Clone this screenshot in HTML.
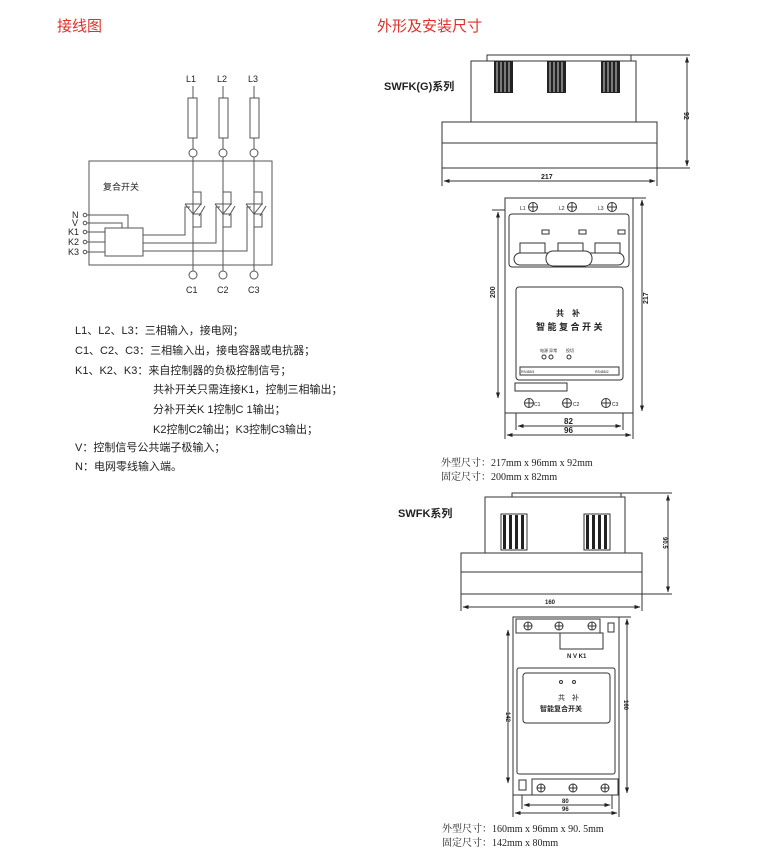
<!DOCTYPE html>
<html><head><meta charset="utf-8"><style>
body{margin:0;background:#fff}
svg{display:block}
text{font-family:"Liberation Sans","Noto Sans CJK SC",sans-serif;fill:#222}
.s{font-family:"Liberation Serif","Noto Serif CJK SC",serif}
</style></head><body>
<svg width="780" height="867" viewBox="0 0 780 867" xmlns="http://www.w3.org/2000/svg">
<defs>
<marker id="a" markerWidth="6" markerHeight="4" refX="5.5" refY="2" orient="auto-start-reverse" markerUnits="userSpaceOnUse"><path d="M0,0L6,2L0,4z" fill="#222"/></marker>
</defs>
<text x="57" y="31" font-size="15" style="fill:#e0302a">接线图</text>
<text x="377" y="31" font-size="15" style="fill:#e0302a">外形及安装尺寸</text>

<!-- wiring -->
<g stroke="#555" fill="none" stroke-width="1">
<rect x="89" y="161" width="183" height="104"/>
<rect x="105" y="228" width="38" height="28"/>
<line x1="193" y1="86" x2="193" y2="271"/>
<line x1="223" y1="86" x2="223" y2="271"/>
<line x1="254" y1="86" x2="254" y2="271"/>
<rect x="188" y="98" width="9" height="40" fill="#fff"/>
<rect x="219" y="98" width="9" height="40" fill="#fff"/>
<rect x="250" y="98" width="9" height="40" fill="#fff"/>
<g fill="#fff">
<circle cx="193" cy="153" r="4"/><circle cx="223" cy="153" r="4"/><circle cx="254" cy="153" r="4"/>
<circle cx="193" cy="275" r="4"/><circle cx="223" cy="275" r="4"/><circle cx="254" cy="275" r="4"/>
<circle cx="85" cy="215" r="1.8"/><circle cx="85" cy="223" r="1.8"/><circle cx="85" cy="232" r="1.8"/><circle cx="85" cy="242" r="1.8"/><circle cx="85" cy="252" r="1.8"/>
</g>
<polyline points="87,215 128,215 128,228"/>
<polyline points="87,223 122,223 122,228"/>
<line x1="87" y1="232" x2="105" y2="232"/>
<line x1="87" y1="242" x2="105" y2="242"/>
<line x1="87" y1="252" x2="105" y2="252"/>
<polyline points="143,235 185,235 185,207 190,207"/>
<polyline points="143,243 216,243 216,207 220,207"/>
<polyline points="143,251 247,251 247,207 251,207"/>
<g id="sw"><polyline points="193,192 201,192 201,205"/><polyline points="185,204 201,204 193,214 185,204"/><polyline points="199,216 205,206"/><polyline points="193,214 201,214 201,227 193,227"/></g>
<use href="#sw" x="30"/><use href="#sw" x="61"/>
</g>
<g font-size="9">
<text x="186" y="82">L1</text><text x="217" y="82">L2</text><text x="248" y="82">L3</text>
<text x="186" y="293">C1</text><text x="217" y="293">C2</text><text x="248" y="293">C3</text>
<text x="72" y="218">N</text><text x="72" y="226">V</text><text x="68" y="235">K1</text><text x="68" y="245">K2</text><text x="68" y="255">K3</text>
</g>
<text x="103" y="190" font-size="9">复合开关</text>
<g font-size="11">
<text x="75" y="334">L1、L2、L3：三相输入，接电网；</text>
<text x="75" y="354">C1、C2、C3：三相输入出，接电容器或电抗器；</text>
<text x="75" y="374">K1、K2、K3：来自控制器的负极控制信号；</text>
<text x="153" y="393">共补开关只需连接K1，控制三相输出；</text>
<text x="153" y="413">分补开关K 1控制C 1输出；</text>
<text x="153" y="433">K2控制C2输出；K3控制C3输出；</text>
<text x="75" y="451">V：控制信号公共端子极输入；</text>
<text x="75" y="470">N：电网零线输入端。</text>
</g>

<!-- SWFK(G) side -->
<text x="384" y="90" font-size="11" font-weight="bold">SWFK(G)系列</text>
<g stroke="#333" fill="none">
<rect x="487" y="55" width="144" height="6"/>
<polyline points="471,122 471,61 636,61 636,122"/>
<rect x="442" y="122" width="215" height="46"/>
<line x1="442" y1="143" x2="657" y2="143"/>
<line x1="631" y1="55" x2="690" y2="55"/><line x1="657" y1="168" x2="690" y2="168"/>
<line x1="687" y1="57" x2="687" y2="166" marker-start="url(#a)" marker-end="url(#a)"/>
<line x1="442" y1="168" x2="442" y2="186"/><line x1="657" y1="168" x2="657" y2="186"/>
<line x1="444" y1="181" x2="655" y2="181" marker-start="url(#a)" marker-end="url(#a)"/>
</g>
<g fill="#222"><rect x="494" y="61" width="19" height="32"/><rect x="547" y="61" width="19" height="32"/><rect x="601" y="61" width="19" height="32"/></g>
<g stroke="#fff" stroke-width="0.8">
<path d="M497,62v30M501,62v30M505,62v30M509,62v30M550,62v30M554,62v30M558,62v30M562,62v30M604,62v30M608,62v30M612,62v30M616,62v30"/></g>
<text x="541" y="179" font-size="7" font-weight="bold">217</text>
<text x="684" y="112" font-size="7" font-weight="bold" transform="rotate(90 684 112)">92</text>

<!-- SWFK(G) front -->
<g stroke="#333" fill="none">
<rect x="505" y="198" width="128" height="215"/>
<rect x="509" y="214" width="120" height="53" rx="3"/>
<rect x="542" y="230" width="7" height="4"/><rect x="579" y="230" width="7" height="4"/><rect x="618" y="230" width="7" height="4"/>
<rect x="520" y="243" width="25" height="10"/><rect x="558" y="243" width="25" height="10"/><rect x="595" y="243" width="25" height="10"/>
<rect x="514" y="253" width="110" height="12" rx="6"/>
<rect x="546" y="251" width="46" height="15" rx="7" fill="#fff"/>
<rect x="516" y="287" width="107" height="93" rx="3"/>
<rect x="520" y="367" width="99" height="8"/>
<rect x="515" y="383" width="52" height="8"/>
<circle cx="544" cy="357" r="2"/><circle cx="551" cy="357" r="2"/><circle cx="569" cy="357" r="2"/>
<g id="sc"><circle cx="533" cy="207" r="4.5"/><path d="M528.5,207h9M533,202.5v9"/></g>
<use href="#sc" x="39"/><use href="#sc" x="79"/>
<use href="#sc" x="-4" y="196"/><use href="#sc" x="34" y="196"/><use href="#sc" x="73" y="196"/>
<line x1="492" y1="210" x2="505" y2="210"/>
<line x1="498" y1="212" x2="498" y2="398" marker-start="url(#a)" marker-end="url(#a)"/>
<line x1="633" y1="198" x2="646" y2="198"/>
<line x1="642" y1="200" x2="642" y2="411" marker-start="url(#a)" marker-end="url(#a)"/>
<line x1="516" y1="413" x2="516" y2="430"/><line x1="623" y1="413" x2="623" y2="430"/>
<line x1="518" y1="426" x2="621" y2="426" marker-start="url(#a)" marker-end="url(#a)"/>
<line x1="505" y1="413" x2="505" y2="439"/><line x1="633" y1="413" x2="633" y2="439"/>
<line x1="507" y1="435" x2="631" y2="435" marker-start="url(#a)" marker-end="url(#a)"/>
</g>
<g font-size="5"><text x="520" y="210">L1</text><text x="559" y="210">L2</text><text x="598" y="210">L3</text>
<text x="534" y="406">C1</text><text x="573" y="406">C2</text><text x="612" y="406">C3</text>
<text x="521" y="373" font-size="3.5">RS485/1</text><text x="595" y="373" font-size="3.5">RS485/2</text></g>
<text x="556" y="316" font-size="8" font-weight="bold">共　补</text>
<text x="536" y="330" font-size="9" font-weight="bold">智 能 复 合 开 关</text>
<text x="540" y="352" font-size="4">电源 异常</text><text x="566" y="352" font-size="4">投切</text>
<text x="564" y="424" font-size="8" font-weight="bold">82</text>
<text x="564" y="433" font-size="8" font-weight="bold">96</text>
<text x="495" y="298" font-size="7" font-weight="bold" transform="rotate(-90 495 298)">200</text>
<text x="644" y="300" font-size="7" font-weight="bold" transform="rotate(-90 648 300)">217</text>
<text x="441" y="466" font-size="10" class="s">外型尺寸：217mm x 96mm x 92mm</text>
<text x="441" y="480" font-size="10" class="s">固定尺寸：200mm x 82mm</text>

<!-- SWFK side -->
<text x="398" y="517" font-size="11" font-weight="bold">SWFK系列</text>
<g stroke="#333" fill="none">
<rect x="512" y="493" width="109" height="4"/>
<polyline points="485,553 485,497 625,497 625,553"/>
<rect x="461" y="553" width="181" height="41"/>
<line x1="461" y1="572" x2="642" y2="572"/>
<line x1="621" y1="493" x2="672" y2="493"/><line x1="642" y1="594" x2="672" y2="594"/>
<line x1="668" y1="495" x2="668" y2="592" marker-start="url(#a)" marker-end="url(#a)"/>
<line x1="461" y1="594" x2="461" y2="611"/><line x1="642" y1="594" x2="642" y2="611"/>
<line x1="463" y1="607" x2="640" y2="607" marker-start="url(#a)" marker-end="url(#a)"/>
<rect x="501" y="514" width="26" height="36"/><rect x="584" y="514" width="26" height="36"/>
</g>
<g fill="#222"><path d="M503,515h3v34h-3zM509,515h3v34h-3zM515,515h3v34h-3zM521,515h3v34h-3zM586,515h3v34h-3zM592,515h3v34h-3zM598,515h3v34h-3zM604,515h3v34h-3z"/></g>
<text x="545" y="604" font-size="6" font-weight="bold">160</text>
<text x="663" y="537" font-size="6" font-weight="bold" transform="rotate(90 663 537)">90.5</text>

<!-- SWFK front -->
<g stroke="#333" fill="none">
<rect x="513" y="617" width="106" height="178"/>
<rect x="516" y="619" width="84" height="14"/>
<rect x="608" y="623" width="6" height="9"/>
<rect x="560" y="633" width="43" height="16"/>
<rect x="517" y="668" width="98" height="106" rx="2"/>
<rect x="523" y="673" width="87" height="50" rx="3"/>
<circle cx="561" cy="682" r="1.5"/><circle cx="574" cy="682" r="1.5"/>
<rect x="532" y="779" width="86" height="16"/>
<rect x="519" y="780" width="7" height="10"/>
<g id="sc2"><circle cx="528" cy="626" r="4"/><path d="M524,626h8M528,622v8"/></g>
<use href="#sc2" x="31"/><use href="#sc2" x="64"/>
<use href="#sc2" x="13" y="162"/><use href="#sc2" x="45" y="162"/><use href="#sc2" x="77" y="162"/>
<line x1="508" y1="630" x2="508" y2="783" marker-start="url(#a)" marker-end="url(#a)"/>
<line x1="619" y1="617" x2="631" y2="617"/>
<line x1="627" y1="619" x2="627" y2="793" marker-start="url(#a)" marker-end="url(#a)"/>
<line x1="522" y1="795" x2="522" y2="809"/><line x1="612" y1="795" x2="612" y2="809"/>
<line x1="524" y1="805" x2="610" y2="805" marker-start="url(#a)" marker-end="url(#a)"/>
<line x1="513" y1="795" x2="513" y2="817"/><line x1="619" y1="795" x2="619" y2="817"/>
<line x1="515" y1="813" x2="617" y2="813" marker-start="url(#a)" marker-end="url(#a)"/>
</g>
<text x="567" y="658" font-size="6" font-weight="bold">N V K1</text>
<text x="558" y="700" font-size="7">共　补</text>
<text x="540" y="711" font-size="7" font-weight="bold">智能复合开关</text>
<text x="562" y="803" font-size="6" font-weight="bold">80</text>
<text x="562" y="811" font-size="6" font-weight="bold">96</text>
<text x="506" y="712" font-size="6" font-weight="bold" transform="rotate(90 506 712)">142</text>
<text x="624" y="700" font-size="6" font-weight="bold" transform="rotate(90 624 700)">160</text>
<text x="442" y="832" font-size="10" class="s">外型尺寸：160mm x 96mm x 90. 5mm</text>
<text x="442" y="846" font-size="10" class="s">固定尺寸：142mm x 80mm</text>
</svg>
</body></html>
